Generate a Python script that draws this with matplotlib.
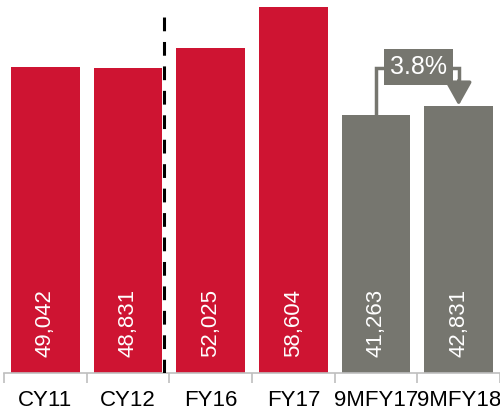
import matplotlib
matplotlib.use('Agg')
import matplotlib.pyplot as plt

# periods and values
periods = ['CY11', 'CY12', 'FY16', 'FY17', '9MFY17', '9MFY18']
values = [49042, 48831, 52025, 58604, 41263, 42831]
growth_label = '3.8%'

red = '#CE1432'
grey = '#76766F'
colors = [red, red, red, red, grey, grey]

plt.rcParams['font.family'] = ['Liberation Sans', 'DejaVu Sans']


def main():
    fig = plt.figure(figsize=(5.0, 4.11), dpi=100)
    ax = fig.add_axes([0.008, 0.0925, 0.992, 0.9075])

    pos = list(range(len(periods)))
    ax.bar(pos, values, width=0.83, color=colors, zorder=2)

    # value labels, rotated, at the foot of each bar
    for p, v in zip(pos, values):
        ax.annotate(f'{v:,}', (p, 0), xytext=(0, 11.5), textcoords='offset points',
                    rotation=90, ha='center', va='bottom', color='white', fontsize=16,
                    zorder=3)

    ax.set_xlim(-0.5, len(periods) - 0.5)
    ax.set_ylim(0, 59730)

    # dashed separator between calendar and fiscal years
    ax.plot([1.44, 1.44], [0, 57650], color='black', lw=2.2,
            linestyle=(0, (4.5, 3.5)), zorder=4)

    # growth connector between the last two bars
    lvl = 48840
    ax.plot([4, 4, 5, 5], [values[4], lvl, lvl, lvl - 2200], color=grey, lw=2.5,
            solid_joinstyle='miter', zorder=3)
    ax.annotate('', xy=(5, values[5]), xytext=(5, lvl - 2000),
                arrowprops=dict(arrowstyle='-|>,head_length=0.75,head_width=0.42',
                                color=grey, lw=2.5, mutation_scale=19,
                                shrinkA=0, shrinkB=0), zorder=3)
    ax.text(4.52, lvl + 150, growth_label, ha='center', va='center', color='white',
            fontsize=18, zorder=5,
            bbox=dict(boxstyle='square,pad=0.24', fc=grey, ec='none'))

    # axis styling
    for side in ['top', 'right', 'left']:
        ax.spines[side].set_visible(False)
    ax.spines['bottom'].set_color('#BFBFBF')
    ax.spines['bottom'].set_linewidth(1.2)
    ax.set_yticks([])
    ax.set_xticks(pos)
    ax.set_xticklabels(periods, fontsize=16)
    ax.tick_params(axis='x', which='major', length=0, pad=12)
    ax.set_xticks([p - 0.5 for p in pos] + [len(pos) - 0.5], minor=True)
    ax.tick_params(axis='x', which='minor', length=7, width=1.2, color='#BFBFBF')

    plt.savefig('out.png', dpi=100)


if __name__ == '__main__':
    main()
